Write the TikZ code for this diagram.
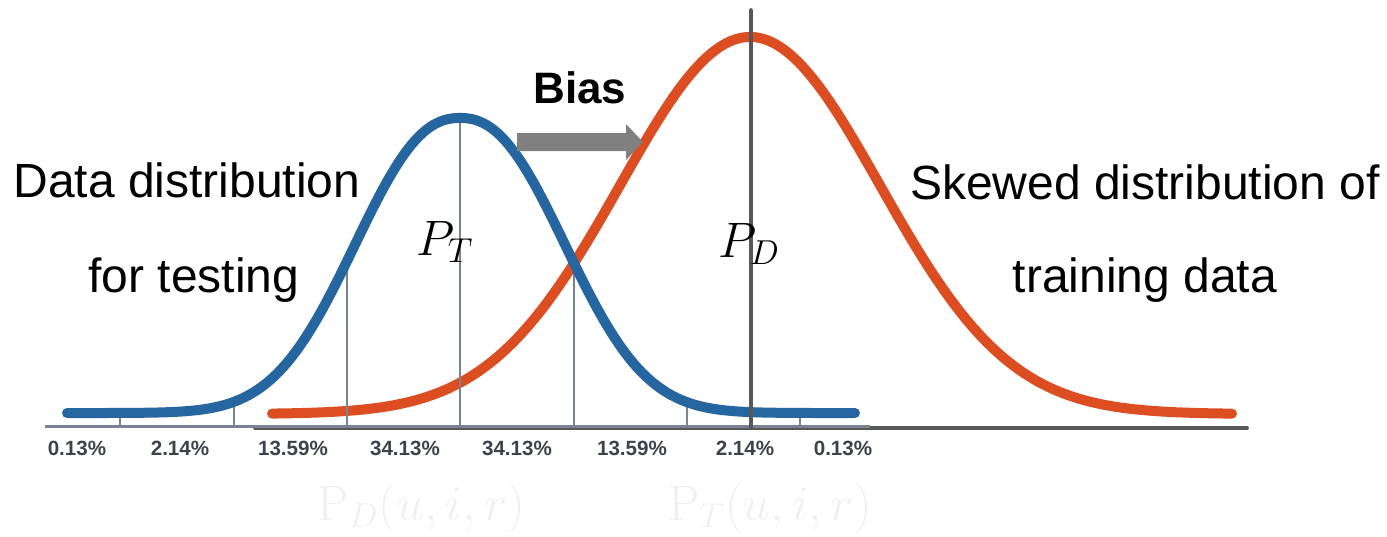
\documentclass[tikz,border=0pt]{standalone}
\usepackage[no-math]{fontspec}
\setmainfont{Liberation Sans}
\definecolor{cblue}{RGB}{38,102,160}
\definecolor{cred}{RGB}{220,78,34}
\definecolor{cslate}{RGB}{122,131,146}
\definecolor{cdark}{RGB}{88,88,88}
\definecolor{carrow}{RGB}{128,128,128}
\definecolor{clabel}{RGB}{62,66,76}
\begin{document}
\begin{tikzpicture}[x=0.5pt,y=-0.5pt,
  declare function={bl(\t)=413-295*exp(-((abs(\t-460)/135+0.0001)^2.3));
                    rd(\t)=414-377*exp(-0.5*(((\t-750)/130)^2));},
  curve/.style={line width=5pt,line cap=round,line join=round},
  tickline/.style={draw=cslate,line width=1pt},
  pct/.style={font=\fontsize{10.3}{12}\selectfont\bfseries,text=clabel,inner sep=0pt,anchor=base},
  lbl/.style={font=\fontsize{24}{28}\selectfont,inner sep=0pt,anchor=base},
  mathlbl/.style={font=\fontsize{26}{30}\selectfont,inner sep=0pt,anchor=base west},
  ghost/.style={font=\fontsize{25}{30}\selectfont,text=black!6,inner sep=0pt,anchor=base west}]
\useasboundingbox (0,0) rectangle (1387,536);
% axes
\draw[cdark,line width=1.9pt,line cap=round] (255,428) coordinate (da) -- (1247,428) coordinate (db);
\draw[cslate,line width=1.5pt] (45,426) coordinate (sa) -- (870,426) coordinate (sb);
% red curve
\draw[curve,cred] plot[domain=272:1232,samples=200,smooth] (\x,{rd(\x)});
% ticks
\foreach \t in {120,234,347,460,574,687,800}
  \draw[tickline] (\t,426) -- (\t,{bl(\t)});
% blue curve
\draw[curve,cblue] plot[domain=67:855,samples=200,smooth] (\x,{bl(\x)});
% vertical mean line of P_D
\draw[cdark,line width=1.8pt,line cap=round] (751,10) coordinate (va) -- (751,428) coordinate (vb);
% bias arrow
\fill[carrow] (517,133) -- (626,133) -- (626,124) -- (643,142) -- (626,160) -- (626,151) -- (517,151) -- cycle;
\node[font=\fontsize{22}{26}\selectfont\bfseries,inner sep=0pt,anchor=base] (bias) at (580,103) {Bias};
% percentages
\node[pct] (p1) at (77,455) {0.13\%};
\node[pct] (p2) at (180,455) {2.14\%};
\node[pct] (p3) at (293,455) {13.59\%};
\node[pct] (p4) at (405,455) {34.13\%};
\node[pct] (p5) at (517,455) {34.13\%};
\node[pct] (p6) at (632,455) {13.59\%};
\node[pct] (p7) at (745,455) {2.14\%};
\node[pct] (p8) at (843,455) {0.13\%};
% labels
\node[lbl] (l1) at (187,197) {Data distribution};
\node[lbl] (l2) at (194,292) {for testing};
\node[lbl] (r1) at (1145,199) {Skewed distribution of};
\node[lbl] (r2) at (1145,292) {training data};
\node[mathlbl] (pt) at (416,255) {$P_T$};
\node[mathlbl] (pd) at (718,257) {$P_D$};
% faint white formulas
\node[ghost] (gd) at (317,520) {$\mathrm{P}_D(u,i,r)$};
\node[ghost] (gt) at (668,520) {$\mathrm{P}_T(u,i,r)$};
\end{tikzpicture}
\end{document}
